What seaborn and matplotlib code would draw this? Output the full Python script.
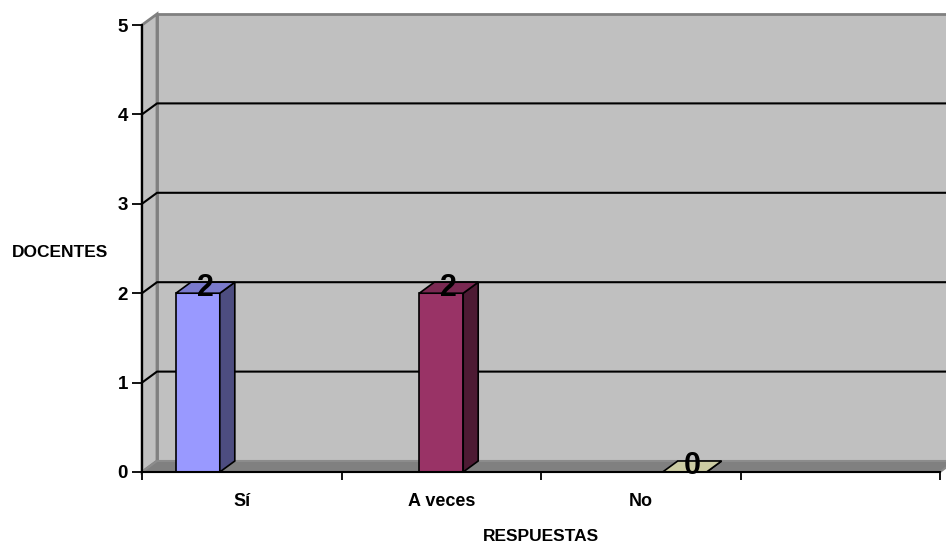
# 3D-style column chart: DOCENTES vs RESPUESTAS
import numpy as np
import pandas as pd
import matplotlib
matplotlib.use("Agg")
import matplotlib.pyplot as plt
import matplotlib.colors as mcolors
from matplotlib.patches import Polygon, Rectangle
import seaborn as sns

# ------------------------------------------------------------
# Data
# ------------------------------------------------------------
categorias = ["Sí", "A veces", "No", " "]
series = ["Sí", "A veces", "No"]
docentes = [2, 2, 0]
colores = ["#9999ff", "#993366", "#ffffcc"]
y_ticks = [0, 1, 2, 3, 4, 5]

df = pd.DataFrame({"categoria": series, "serie": series, "docentes": docentes})

# ------------------------------------------------------------
# Style
# ------------------------------------------------------------
sns.set_style("white")
plt.rcParams["font.family"] = ["Liberation Sans Narrow", "Liberation Sans", "DejaVu Sans"]
plt.rcParams["font.weight"] = "bold"
plt.rcParams["text.color"] = "black"
plt.rcParams["xtick.color"] = "black"
plt.rcParams["ytick.color"] = "black"
plt.rcParams["axes.labelcolor"] = "black"

fig = plt.figure(figsize=(9.46, 5.48), dpi=100)
ax = fig.add_axes([142 / 946, 76 / 548, 798 / 946, 447 / 548])
ax.set_facecolor("none")

sns.barplot(data=df, x="categoria", y="docentes", hue="serie",
            order=categorias, hue_order=series, palette=colores,
            width=0.66, dodge=True, edgecolor="black", linewidth=1.2,
            legend=False, saturation=1, ax=ax, zorder=3)

ax.set_xlim(-0.5, len(categorias) - 0.5)
ax.set_ylim(0, 5)

# depth offset of the 3D look, in data units (15 px right, 11 px up)
ox = 15 / 798 * len(categorias)
oy = 11 / 447 * 5
x0, x1 = -0.5, len(categorias) - 0.5

# back wall, side wall, floor
ax.add_patch(Polygon([(x0 + ox, oy), (x1 + ox, oy), (x1 + ox, 5 + oy), (x0 + ox, 5 + oy)],
                     facecolor="#c0c0c0", edgecolor="#808080", lw=2, zorder=0, clip_on=False))
ax.add_patch(Polygon([(x0, 0), (x0 + ox, oy), (x0 + ox, 5 + oy), (x0, 5)],
                     facecolor="#c0c0c0", edgecolor="#808080", lw=2, zorder=0, clip_on=False))
ax.add_patch(Polygon([(x0, 0), (x1, 0), (x1 + ox, oy), (x0 + ox, oy)],
                     facecolor="#808080", edgecolor="#8c8c8c", lw=1.5, zorder=1, clip_on=False))

# gridlines on the back wall
for yv in y_ticks[1:-1]:
    ax.plot([x0, x0 + ox, x1 + ox], [yv, yv + oy, yv + oy], color="black",
            lw=1.5, zorder=0.5, clip_on=False)

# 3D faces and labels for the bars
for bar in list(ax.patches):
    if not isinstance(bar, Rectangle):
        continue
    h = bar.get_height()
    if np.isnan(h):
        continue
    bx, bw = bar.get_x(), bar.get_width()
    fc = mcolors.to_rgb(bar.get_facecolor())
    top = [c * 0.8 for c in fc]
    side = [c * 0.5 for c in fc]
    ax.add_patch(Polygon([(bx + bw, 0), (bx + bw + ox, oy), (bx + bw + ox, h + oy), (bx + bw, h)],
                         facecolor=side, edgecolor="black", lw=1.2, zorder=3))
    ax.add_patch(Polygon([(bx, h), (bx + bw, h), (bx + bw + ox, h + oy), (bx + ox, h + oy)],
                         facecolor=top, edgecolor="black", lw=1.2, zorder=3))
    ax.text(bx + bw / 2 + ox / 2, h + oy / 2, f"{h:.0f}", ha="center", va="center",
            fontsize=22, fontweight="bold", color="black", zorder=4)

# axes
sns.despine(ax=ax, top=True, right=True)
for side_name in ["left", "bottom"]:
    ax.spines[side_name].set_color("black")
    ax.spines[side_name].set_linewidth(1.5)
    ax.spines[side_name].set_zorder(5)

ax.set_yticks(y_ticks)
ax.set_yticklabels([str(v) for v in y_ticks], fontsize=13.5, fontweight="bold")
ax.tick_params(axis="y", direction="out", length=7, width=1.3, pad=3, left=True)

ax.set_xticks(np.arange(len(categorias) + 1) - 0.5)
ax.set_xticklabels([])
ax.set_xticks(np.arange(len(categorias)), minor=True)
ax.set_xticklabels(categorias, minor=True, fontsize=13, fontweight="bold")
ax.tick_params(axis="x", which="major", direction="out", length=6, width=1.3, bottom=True)
ax.tick_params(axis="x", which="minor", length=0, pad=15)

ax.set_xlabel("RESPUESTAS", fontsize=12.5, fontweight="bold", labelpad=14)
ax.set_ylabel("DOCENTES", fontsize=12.5, fontweight="bold", rotation=0, labelpad=0)
ax.yaxis.set_label_coords(-0.103, 0.475)

plt.savefig("out.png", dpi=100)
